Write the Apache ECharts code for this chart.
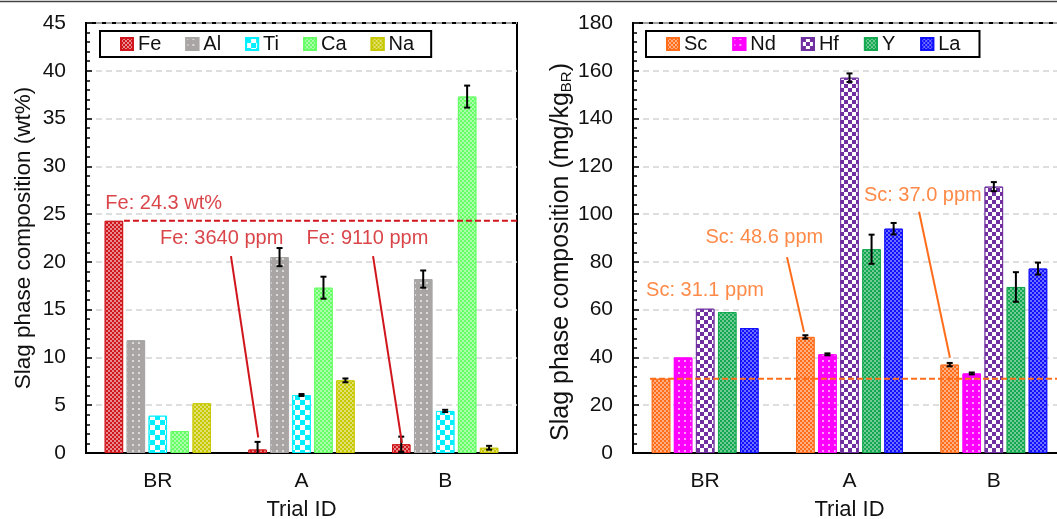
<!DOCTYPE html>
<html>
<head>
<meta charset="utf-8">
<script src="https://cdn.jsdelivr.net/npm/echarts@6/dist/echarts.min.js"></script>
<style>
html,body{margin:0;padding:0;background:#fff;}
#chart{width:1057px;height:519px;}
</style>
</head>
<body>
<div id="chart"></div>
<script>
// ---------- data ----------
var categories = ['BR', 'A', 'B'];

// left panel (wt%)
var leftNames = ['Fe', 'Al', 'Ti', 'Ca', 'Na'];
var Fe = [24.3, 0.364, 0.911];
var FeErr = [0, 0.8, 0.8];
var Al = [11.8, 20.5, 18.2];
var AlErr = [0, 0.95, 0.9];
var Ti = [3.9, 6.07, 4.4];
var TiErr = [0, 0.1, 0.12];
var Ca = [2.3, 17.3, 37.3];
var CaErr = [0, 1.15, 1.15];
var Na = [5.2, 7.6, 0.55];
var NaErr = [0, 0.2, 0.2];

// right panel (mg/kg BR)
var rightNames = ['Sc', 'Nd', 'Hf', 'Y', 'La'];
var Sc = [31.1, 48.6, 37.0];
var ScErr = [0, 0.7, 0.7];
var Nd = [40.0, 41.3, 33.3];
var NdErr = [0, 0.4, 0.4];
var Hf = [60.4, 157.1, 111.5];
var HfErr = [0, 1.8, 1.9];
var Yv = [59.0, 85.3, 69.5];
var YErr = [0, 6.1, 6.2];
var La = [52.3, 93.9, 77.2];
var LaErr = [0, 2.4, 2.5];

var leftTicks = {min: 0, max: 45, interval: 5};
var rightTicks = {min: 0, max: 180, interval: 20};

// ---------- styles ----------
var FONT = 'Liberation Sans, Arial, sans-serif';
var CAT_GAP = 0.26, BAR_GAP = 0.19;

function checker(s, c) {
  return {symbol: 'rect', symbolSize: 1, color: c, dashArrayX: [[s, s], [0, s, s, 0]], dashArrayY: [s, 0]};
}
function dots(s, g, c) {
  return {symbol: 'rect', symbolSize: 1, color: c, dashArrayX: [s, g], dashArrayY: [s, g]};
}

var leftStyles = [
  {color: '#d0161c', decal: checker(2, 'rgba(255,255,255,0.5)')},
  {color: '#a9a5a5', decal: dots(1.5, 3.5, 'rgba(255,255,255,0.6)')},
  {color: '#00f0ff', decal: checker(4.5, '#ffffff')},
  {color: '#66ff66', decal: checker(2, 'rgba(255,255,255,0.45)')},
  {color: '#c8c800', decal: checker(2, 'rgba(255,255,255,0.45)')}
];
var rightStyles = [
  {color: '#ff6d1a', decal: checker(2, 'rgba(255,255,255,0.45)')},
  {color: '#ff00ff', decal: dots(1.5, 3.5, 'rgba(255,255,255,0.6)')},
  {color: '#7030a0', decal: checker(4, '#ffffff')},
  {color: '#14a851', decal: checker(2, 'rgba(255,255,255,0.4)')},
  {color: '#1010ff', decal: checker(2, 'rgba(255,255,255,0.4)')}
];

function errRender(pos, n) {
  return function (params, api) {
    var cat = api.value(0), v = api.value(1), e = api.value(2);
    if (!e) return null;
    var c = api.coord([cat, v]);
    var band = api.size([1, 0])[0];
    var usable = band * (1 - CAT_GAP);
    var bw = usable / (n + (n - 1) * BAR_GAP);
    var x = c[0] - usable / 2 + pos * bw * (1 + BAR_GAP) + bw / 2;
    var hi = api.coord([cat, v + e])[1];
    var lo = api.coord([cat, Math.max(v - e, 0)])[1];
    var st = {stroke: '#000', lineWidth: 2};
    var ch = [
      {type: 'line', shape: {x1: x, y1: hi, x2: x, y2: lo}, style: st},
      {type: 'line', shape: {x1: x - 3, y1: hi, x2: x + 3, y2: hi}, style: st}
    ];
    if (v - e > 0) ch.push({type: 'line', shape: {x1: x - 3, y1: lo, x2: x + 3, y2: lo}, style: st});
    return {type: 'group', children: ch};
  };
}

var series = [];
function addPanel(names, vals, errs, styles, xi, yi) {
  names.forEach(function (nm, i) {
    series.push({
      name: nm, type: 'bar', xAxisIndex: xi, yAxisIndex: yi,
      data: vals[i], barCategoryGap: (CAT_GAP * 100) + '%', barGap: (BAR_GAP * 100) + '%',
      itemStyle: {color: styles[i].color, borderColor: styles[i].color, borderWidth: 1, decal: styles[i].decal},
      z: 2
    });
  });
  names.forEach(function (nm, i) {
    series.push({
      type: 'custom', xAxisIndex: xi, yAxisIndex: yi, z: 5,
      renderItem: errRender(i, names.length),
      encode: {x: 0, y: 1},
      data: vals[i].map(function (v, k) { return [k, v, errs[i][k]]; })
    });
  });
}
addPanel(leftNames, [Fe, Al, Ti, Ca, Na], [FeErr, AlErr, TiErr, CaErr, NaErr], leftStyles, 0, 0);
addPanel(rightNames, [Sc, Nd, Hf, Yv, La], [ScErr, NdErr, HfErr, YErr, LaErr], rightStyles, 1, 1);

// annotations (on hidden value x-axes spanning the 3 categories)
var RED = '#d0161c', ORANGE = '#ff6d1a';
function lineS(xi, yi, pts, color, dashed) {
  series.push({type: 'line', xAxisIndex: xi, yAxisIndex: yi, data: pts, symbol: 'none', silent: true, z: 6,
    lineStyle: {color: color, width: 2, type: dashed ? [6, 3] : 'solid'}, animation: false});
}
function textS(xi, yi, pts, color) {
  series.push({type: 'scatter', xAxisIndex: xi, yAxisIndex: yi, data: pts, symbolSize: 1, silent: true, z: 7,
    itemStyle: {color: 'rgba(0,0,0,0)'},
    label: {show: true, position: 'inside', formatter: function (p) { return p.value[2]; },
      color: color, fontSize: 20, fontFamily: FONT}});
}
lineS(2, 0, [[0.264, Fe[0]], [3, Fe[0]]], RED, true);
lineS(2, 0, [[1.009, 20.6], [1.199, 1.62]], RED, false);
lineS(2, 0, [[1.998, 20.6], [2.199, 1.05]], RED, false);
textS(2, 0, [
  [0.541, 26.1, 'Fe: ' + Fe[0].toFixed(1) + ' wt%'],
  [0.944, 22.5, 'Fe: ' + Math.round(Fe[1] * 10000) + ' ppm'],
  [1.959, 22.5, 'Fe: ' + Math.round(Fe[2] * 10000) + ' ppm']
], RED);

lineS(3, 1, [[0.118, Sc[0]], [3, Sc[0]]], ORANGE, true);
lineS(3, 1, [[1.067, 82.0], [1.185, 50.6]], ORANGE, false);
lineS(3, 1, [[1.982, 101.0], [2.196, 39.9]], ORANGE, false);
textS(3, 1, [
  [0.499, 67.9, 'Sc: ' + Sc[0].toFixed(1) + ' ppm'],
  [0.910, 90.1, 'Sc: ' + Sc[1].toFixed(1) + ' ppm'],
  [2.008, 108.0, 'Sc: ' + Sc[2].toFixed(1) + ' ppm']
], ORANGE);

function catAxis(gi) {
  return {
    type: 'category', gridIndex: gi, data: categories,
    name: 'Trial ID', nameLocation: 'middle', nameGap: 46,
    nameTextStyle: {fontSize: 22, fontFamily: FONT, color: '#111'},
    axisLine: {lineStyle: {color: '#000', width: 2}},
    axisTick: {inside: true, length: 6, lineStyle: {color: '#000', width: 2}},
    axisLabel: {fontSize: 21, fontFamily: FONT, color: '#111', margin: 18},
    splitLine: {show: false}
  };
}
function valAxis(gi, t, name, gap, fs, pad, rich) {
  return {
    type: 'value', gridIndex: gi, min: t.min, max: t.max, interval: t.interval,
    name: name, nameLocation: 'middle', nameGap: gap,
    nameTextStyle: {fontSize: fs, fontFamily: FONT, color: '#111', padding: pad, rich: rich},
    axisLine: {show: true, lineStyle: {color: '#000', width: 2}},
    axisTick: {show: true, inside: true, length: 6, lineStyle: {color: '#000', width: 1.5}},
    minorTick: {show: true, splitNumber: 5, length: 4, lineStyle: {color: '#000', width: 1.5}},
    axisLabel: {fontSize: 21, fontFamily: FONT, color: '#111', margin: 20},
    splitLine: {show: true, lineStyle: {color: '#d4d4d4', width: 1.5, type: [6, 4]}}
  };
}

var option = {
  animation: false,
  backgroundColor: '#fff',
  textStyle: {fontFamily: FONT},
  grid: [
    {left: 86, top: 23, width: 431, height: 430, outerBoundsMode: 'none', containLabel: false,
      show: true, borderColor: '#000', borderWidth: 2, backgroundColor: 'transparent'},
    {left: 633, top: 23, width: 433, height: 430, outerBoundsMode: 'none', containLabel: false,
      show: true, borderColor: '#000', borderWidth: 2, backgroundColor: 'transparent'}
  ],
  xAxis: [
    catAxis(0), catAxis(1),
    {type: 'value', gridIndex: 0, min: 0, max: 3, show: false},
    {type: 'value', gridIndex: 1, min: 0, max: 3, show: false}
  ],
  yAxis: [
    valAxis(0, leftTicks, 'Slag phase composition (wt%)', 51, 22.5, [0, 0, 0, 0], {}),
    valAxis(1, rightTicks, 'Slag phase composition (mg/kg{sub|BR})', 58, 25, [0, 28, 0, 0],
      {sub: {fontSize: 15, fontFamily: FONT, color: '#111', verticalAlign: 'bottom', lineHeight: 14}})
  ],
  legend: [
    {data: leftNames, left: 100, top: 31, orient: 'horizontal', itemWidth: 12, itemHeight: 12, itemGap: 24,
      icon: 'rect', borderColor: '#000', borderWidth: 2, padding: [3, 17, 3, 20],
      textStyle: {fontSize: 20, fontFamily: FONT, color: '#111'}},
    {data: rightNames, left: 646, top: 31, orient: 'horizontal', itemWidth: 12, itemHeight: 12, itemGap: 25,
      icon: 'rect', borderColor: '#000', borderWidth: 2, padding: [3, 19, 3, 20],
      textStyle: {fontSize: 20, fontFamily: FONT, color: '#111'}}
  ],
  graphic: [
    {type: 'line', shape: {x1: 0, y1: 1.5, x2: 1057, y2: 1.5}, style: {stroke: '#444', lineWidth: 1.5}, silent: true}
  ],
  series: series
};

var chart = echarts.init(document.getElementById('chart'), null, {renderer: 'canvas'});
chart.setOption(option);
</script>
</body>
</html>
